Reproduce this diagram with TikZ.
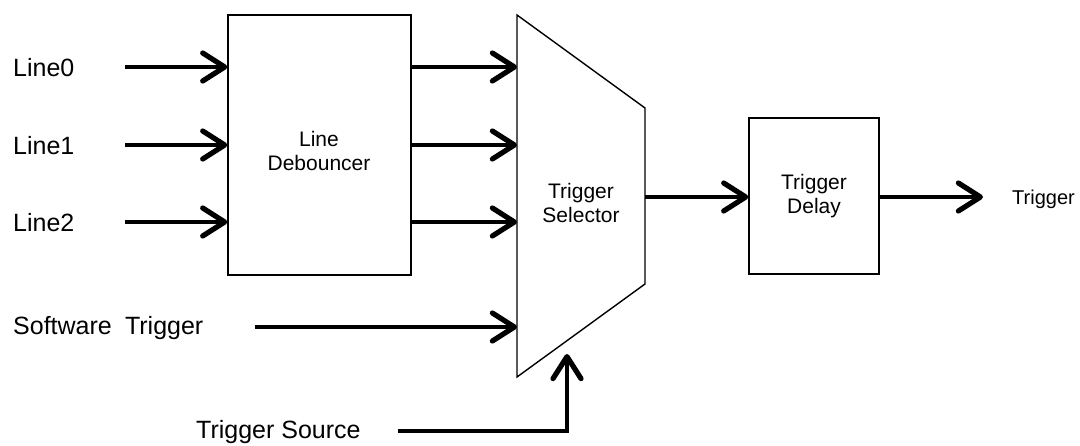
\documentclass[tikz,border=0pt]{standalone}
\usepackage{fontspec}
\setmainfont{Liberation Sans}
\usetikzlibrary{arrows.meta}
\begin{document}
\begin{tikzpicture}[x=1pt,y=-1pt,
  box/.style={draw,line width=1.4pt,inner sep=0pt,align=center,font=\fontsize{21}{24}\selectfont},
  intext/.style={inner sep=0pt,align=center,font=\fontsize{21}{24}\selectfont},
  sig/.style={line width=4.6pt,-{Straight Barb[length=22pt,width=28pt,line width=5.2pt,round]}},
  lbl/.style={font=\fontsize{25}{30}\selectfont,inner sep=0pt,anchor=west},
  outlbl/.style={font=\fontsize{20}{24}\selectfont,inner sep=0pt,anchor=west}]
\useasboundingbox (0,0) rectangle (1080,446);
% blocks
\node[box,minimum width=183pt,minimum height=260pt] (deb) at (319.5,145) {};
\node[intext] (debt) at (319,151) {Line\\Debouncer};
\coordinate (s1) at (517,15);
\coordinate (s2) at (645,108);
\coordinate (s3) at (645,284);
\coordinate (s4) at (517,377);
\draw[line width=1.4pt,line join=miter] (s1)--(s2)--(s3)--(s4)--cycle;
\node[intext] (selt) at (581,203) {Trigger\\Selector};
\node[box,minimum width=130pt,minimum height=156pt] (del) at (814,196) {Trigger\\Delay};
% labels
\node[lbl] (l0) at (13,68) {Line0};
\node[lbl] (l1) at (13,146) {Line1};
\node[lbl] (l2) at (13,223) {Line2};
\node[lbl] (sw) at (13,328) {Software\hspace{0.25em} Trigger};
\node[lbl] (ts) at (196,432) {Trigger Source};
\node[outlbl] (tr) at (1012,199) {Trigger};
% connector start points
\coordinate (l0s) at (125,67);
\coordinate (l1s) at (125,145);
\coordinate (l2s) at (125,222);
\coordinate (sws) at (255,327);
\coordinate (tss) at (398,431);
\coordinate (tsx) at (567,354);
\coordinate (selo) at (645,197);
\coordinate (tre) at (983,197);
% connectors
\draw[sig] (l0s) -- (l0s -| deb.west);
\draw[sig] (l1s) -- (l1s -| deb.west);
\draw[sig] (l2s) -- (l2s -| deb.west);
\draw[sig] (l0s -| deb.east) -- (l0s -| s1);
\draw[sig] (l1s -| deb.east) -- (l1s -| s1);
\draw[sig] (l2s -| deb.east) -- (l2s -| s1);
\draw[sig] (sws) -- (sws -| s1);
\draw[sig] (tss) -| (tsx);
\draw[sig] (selo) -- (selo -| del.west);
\draw[sig] (selo -| del.east) -- (tre);
\end{tikzpicture}
\end{document}
